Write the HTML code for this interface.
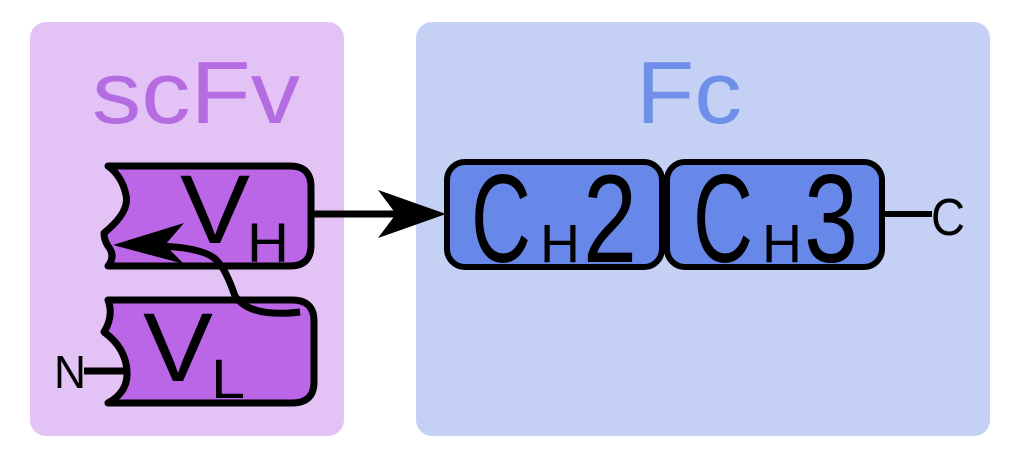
<!DOCTYPE html>
<html><head><style>html,body{margin:0;padding:0;background:#fff}svg{display:block}</style></head>
<body>
<svg width="1024" height="460" viewBox="0 0 1024 460" xmlns="http://www.w3.org/2000/svg" font-family="Liberation Sans, Arial, sans-serif">
<rect x="30" y="22" width="314" height="414" rx="16" fill="#e3c3f5"/>
<rect x="416" y="22" width="574" height="414" rx="16" fill="#c4d1f5"/>
<text x="92" y="123" font-size="88" fill="#b56ce2" textLength="208" lengthAdjust="spacingAndGlyphs">scFv</text>
<text x="636" y="123" font-size="88" fill="#6f8fe9" textLength="106" lengthAdjust="spacingAndGlyphs">Fc</text>
<!-- VH -->
<path d="M108,166 H290 Q311,166 311,187 V245 Q311,266 290,266 H108 Q116,256 108,246 Q104,240 104,233 Q130,212 126,195 Q122,176 108,166 Z" fill="#bb66e6" stroke="#000" stroke-width="7" stroke-linejoin="round"/>
<text x="180" y="243" font-size="97" fill="#000" textLength="70" lengthAdjust="spacingAndGlyphs">V</text>
<text x="247" y="262" font-size="56" fill="#000" textLength="42" lengthAdjust="spacingAndGlyphs">H</text>
<!-- VL -->
<path d="M108,300 H292 Q314,300 314,321 V382 Q314,403 292,403 H108 Q128,392 127,372 Q126,348 104,332 Q114,316 108,300 Z" fill="#bb66e6" stroke="#000" stroke-width="7" stroke-linejoin="round"/>
<text x="143" y="381" font-size="97" fill="#000" textLength="70" lengthAdjust="spacingAndGlyphs">V</text>
<text x="211" y="398" font-size="56" fill="#000" textLength="34" lengthAdjust="spacingAndGlyphs">L</text>
<!-- linker -->
<path d="M300,312 Q250,318 235,296 Q226,270 218,262 Q208,248 160,246" fill="none" stroke="#000" stroke-width="7"/>
<path d="M113,245 L184,223 L165,245 L184,264 Z" fill="#000"/>
<!-- N -->
<line x1="84" y1="371" x2="124" y2="371" stroke="#000" stroke-width="7"/>
<text x="54" y="388" font-size="46" fill="#000" textLength="32" lengthAdjust="spacingAndGlyphs">N</text>
<!-- arrow -->
<line x1="311" y1="214" x2="410" y2="214" stroke="#000" stroke-width="7"/>
<path d="M446,214 L378,190 L396,214 L378,238 Z" fill="#000"/>
<!-- CH2 -->
<rect x="447" y="162" width="215" height="105" rx="18" fill="#6788e8" stroke="#000" stroke-width="6"/>
<text x="471" y="262" font-size="125" fill="#000" textLength="60" lengthAdjust="spacingAndGlyphs">C</text>
<text x="540" y="262" font-size="54" fill="#000" textLength="40" lengthAdjust="spacingAndGlyphs">H</text>
<text x="583" y="262" font-size="125" fill="#000" textLength="54" lengthAdjust="spacingAndGlyphs">2</text>
<rect x="667" y="162" width="215" height="105" rx="18" fill="#6788e8" stroke="#000" stroke-width="6"/>
<text x="693" y="262" font-size="125" fill="#000" textLength="60" lengthAdjust="spacingAndGlyphs">C</text>
<text x="762" y="262" font-size="54" fill="#000" textLength="40" lengthAdjust="spacingAndGlyphs">H</text>
<text x="804" y="262" font-size="125" fill="#000" textLength="54" lengthAdjust="spacingAndGlyphs">3</text>
<line x1="882" y1="214" x2="932" y2="214" stroke="#000" stroke-width="6"/>
<text x="931" y="235" font-size="52" fill="#000" textLength="34" lengthAdjust="spacingAndGlyphs">C</text>
</svg>
</body></html>
